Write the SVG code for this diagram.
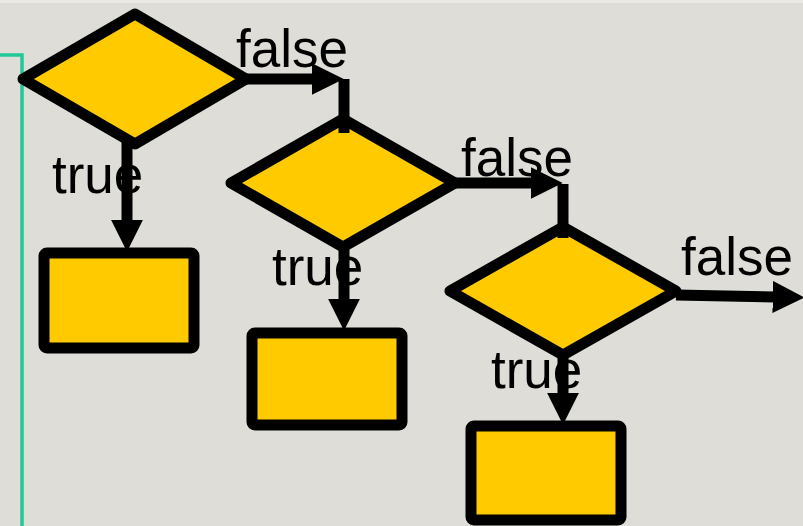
<svg xmlns="http://www.w3.org/2000/svg" width="803" height="526" viewBox="0 0 803 526">
<defs>
<style>
.bg{fill:#dfddd7}
.dec{fill:#ffca00;stroke:#000;stroke-width:11;stroke-linejoin:round}
.box{fill:#ffca00;stroke:#000;stroke-width:11}
.con{stroke:#000;stroke-width:11;fill:none;stroke-linecap:butt}
.lbl{font-family:"Liberation Sans",Arial,sans-serif;font-size:53px;fill:#000}
.teal{stroke:#22c998;stroke-width:3.5;fill:none}
</style>
<marker id="ah" markerUnits="userSpaceOnUse" markerWidth="32" markerHeight="32" viewBox="0 0 30 30" refX="4" refY="15" orient="auto">
<path d="M0,0 L30,15 L0,30 z" fill="#000"/>
</marker>
</defs>
<rect class="bg" x="0" y="0" width="803" height="526"/>
<rect x="0" y="0" width="803" height="3" fill="#ebe9e5"/>
<path class="teal" d="M0,55 L22,55 L22,526"/>
<g id="decision1"><polygon class="dec" points="23,79 135,14 246,79 135,144"/></g>
<g id="decision2"><polygon class="dec" points="231,183 343,119 455,183 343,247"/></g>
<g id="decision3"><polygon class="dec" points="450,291 563,227 676,291 563,355"/></g>
<g id="box1"><rect class="box" x="44" y="253" width="150" height="95" rx="3"/></g>
<g id="box2"><rect class="box" x="252" y="333" width="150" height="92" rx="3"/></g>
<g id="box3"><rect class="box" x="471" y="426" width="150" height="94" rx="3"/></g>
<g id="connectors">
<line class="con" x1="246" y1="79" x2="316" y2="79" marker-end="url(#ah)"/>
<line class="con" x1="344" y1="79" x2="344" y2="133"/>
<line class="con" x1="455" y1="183" x2="535" y2="183" marker-end="url(#ah)"/>
<line class="con" x1="563" y1="184" x2="563" y2="238"/>
<line class="con" x1="676" y1="295" x2="777" y2="297" marker-end="url(#ah)"/>
<line class="con" x1="127" y1="140" x2="127" y2="224" marker-end="url(#ah)"/>
<line class="con" x1="344" y1="245" x2="344" y2="303" marker-end="url(#ah)"/>
<line class="con" x1="563" y1="352" x2="563" y2="397" marker-end="url(#ah)"/>
</g>
<g id="labels">
<text class="lbl" x="236" y="67">false</text>
<text class="lbl" x="461" y="176">false</text>
<text class="lbl" x="681" y="275">false</text>
<text class="lbl" x="52" y="193">true</text>
<text class="lbl" x="272" y="285">true</text>
<text class="lbl" x="491" y="388">true</text>
</g>
</svg>
